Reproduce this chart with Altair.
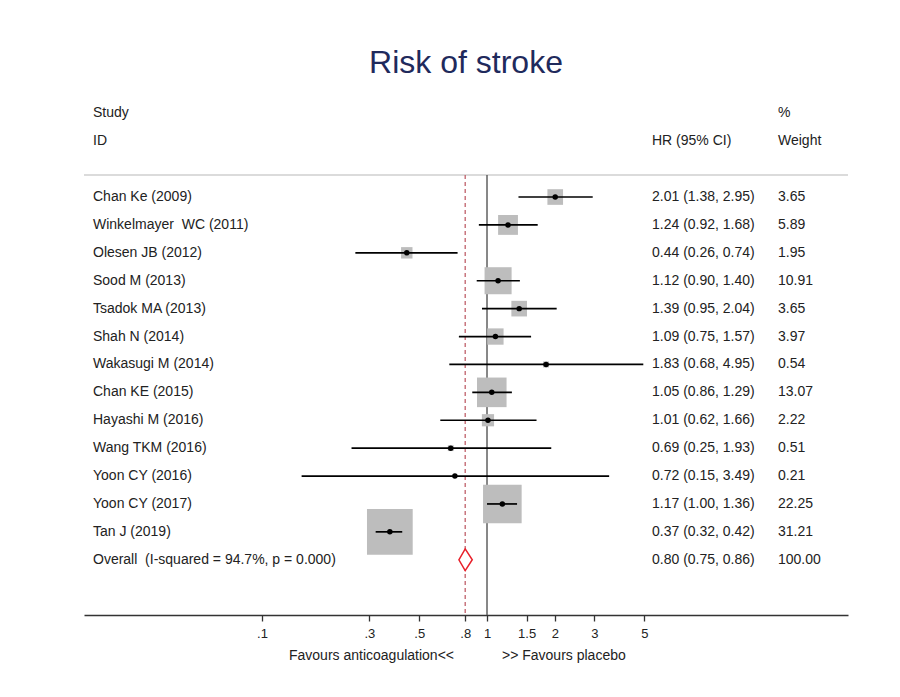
import altair as alt
import pandas as pd

NB = "\u00a0"
studies = ["Chan Ke (2009)", "Winkelmayer" + NB + NB + "WC (2011)", "Olesen JB (2012)", "Sood M (2013)",
           "Tsadok MA (2013)", "Shah N (2014)", "Wakasugi M (2014)", "Chan KE (2015)",
           "Hayashi M (2016)", "Wang TKM (2016)", "Yoon CY (2016)", "Yoon CY (2017)", "Tan J (2019)"]
hr = [2.01, 1.24, 0.44, 1.12, 1.39, 1.09, 1.83, 1.05, 1.01, 0.69, 0.72, 1.17, 0.37]
lo = [1.38, 0.92, 0.26, 0.90, 0.95, 0.75, 0.68, 0.86, 0.62, 0.25, 0.15, 1.00, 0.32]
hi = [2.95, 1.68, 0.74, 1.40, 2.04, 1.57, 4.95, 1.29, 1.66, 1.93, 3.49, 1.36, 0.42]
weight = [3.65, 5.89, 1.95, 10.91, 3.65, 3.97, 0.54, 13.07, 2.22, 0.51, 0.21, 22.25, 31.21]

overall_label = "Overall" + NB + NB + "(I-squared = 94.7%, p = 0.000)"
overall_hr, overall_lo, overall_hi, overall_weight = 0.80, 0.75, 0.86, 100.00

tick_values = [0.1, 0.3, 0.5, 0.8, 1, 1.5, 2, 3, 5]

FONT = "Liberation Sans"
TXT = "#222222"

n = len(studies)
df = pd.DataFrame({
    "study": studies, "hr": hr, "lo": lo, "hi": hi, "weight": weight,
    "row": list(range(n)),
})
df["ci"] = [f"{h:.2f} ({l:.2f}, {u:.2f})" for h, l, u in zip(hr, lo, hi)]
df["wt"] = [f"{w:.2f}" for w in weight]

ov_row = n
labels = pd.DataFrame({
    "study": studies + [overall_label],
    "ci": list(df["ci"]) + [f"{overall_hr:.2f} ({overall_lo:.2f}, {overall_hi:.2f})"],
    "wt": list(df["wt"]) + [f"{overall_weight:.2f}"],
    "row": list(range(n + 1)),
})

half = 0.39
diamond = pd.DataFrame({
    "x": [overall_lo, overall_hr, overall_hi],
    "top": [ov_row, ov_row - half, ov_row],
    "bot": [ov_row, ov_row + half, ov_row],
})

y_top, y_bot = -5.986, 14.98
sep_row = -0.79
xs = alt.Scale(type="log", domain=[0.01618, 40.21], nice=False, zero=False)
ys = alt.Scale(domain=[y_top, y_bot], reverse=True, nice=False, zero=False)

X = lambda f: alt.X(f, type="quantitative", scale=xs,
                    axis=alt.Axis(values=tick_values, title=None, grid=False,
                                  labelExpr="datum.value < 1 ? substring(format(datum.value, '~g'), 1) : format(datum.value, '~g')",
                                  domainColor="#333333", domainWidth=1.5, tickColor="#333333",
                                  tickWidth=1.3, tickSize=6, labelPadding=6, labelFontSize=13,
                                  labelColor=TXT, labelFont=FONT, labelFlush=False))
Y = lambda f: alt.Y(f, type="quantitative", scale=ys, axis=None)

refs = pd.DataFrame({"x": [1.0], "x08": [overall_hr], "top": [sep_row], "bot": [y_bot]})

sep = alt.Chart(refs).mark_rule(color="#cfcfcf", strokeWidth=1.5).encode(
    x=alt.value(0), x2=alt.value(764), y=Y("top"))
vline = alt.Chart(refs).mark_rule(color="#555555", strokeWidth=1.4).encode(
    x=X("x"), y=Y("top"), y2="bot")
dline = alt.Chart(refs).mark_rule(color="#c0606a", strokeWidth=1.3, strokeDash=[4, 3]).encode(
    x=X("x08"), y=Y("top"), y2="bot")

squares = alt.Chart(df).mark_square(color="#bdbdbd", opacity=1).encode(
    x=X("hr"), y=Y("row"),
    size=alt.Size("weight:Q", scale=alt.Scale(domain=[0, 100], range=[0, 6700]), legend=None))
ci = alt.Chart(df).mark_rule(color="black", strokeWidth=1.7).encode(
    x=X("lo"), x2="hi", y=Y("row"))
dots = alt.Chart(df).mark_circle(color="black", opacity=1, size=30).encode(
    x=X("hr"), y=Y("row"))
dia = alt.Chart(diamond).mark_area(fill="white", stroke="#e8202a", strokeWidth=1.5,
                                   orient="vertical", fillOpacity=1).encode(
    x=X("x"), y=Y("top"), y2="bot")

tcfg = dict(font=FONT, fontSize=14, color=TXT, baseline="middle", align="left")
t_study = alt.Chart(labels).mark_text(**tcfg).encode(x=alt.value(9), y=Y("row"), text="study")
t_ci = alt.Chart(labels).mark_text(**tcfg).encode(x=alt.value(568), y=Y("row"), text="ci")
t_wt = alt.Chart(labels).mark_text(**tcfg).encode(x=alt.value(694), y=Y("row"), text="wt")

heads = pd.DataFrame({
    "text": ["Study", "ID", "HR (95% CI)", "%", "Weight"],
    "row": [-3, -2, -2, -3, -2],
    "px": [9, 9, 568, 694, 694],
})
t_heads = alt.Chart(heads).mark_text(**tcfg).encode(
    x=alt.X("px:Q", scale=None), y=Y("row"), text="text")

title = alt.Chart(pd.DataFrame({"t": ["Risk of stroke"]})).mark_text(
    font=FONT, fontSize=32, color="#1f2a5c", align="center", baseline="middle").encode(
    x=alt.value(382), y=alt.value(33), text="t")

fav = pd.DataFrame({"t": ["Favours anticoagulation<<", ">> Favours placebo"]})
fav_l = alt.Chart(fav.iloc[[0]]).mark_text(font=FONT, fontSize=14, color=TXT, align="right",
                                             baseline="middle").encode(
    x=alt.value(370), y=alt.value(626), text="t")
fav_r = alt.Chart(fav.iloc[[1]]).mark_text(font=FONT, fontSize=14, color=TXT, align="left",
                                             baseline="middle").encode(
    x=alt.value(418), y=alt.value(626), text="t")

chart = alt.layer(sep, dline, vline, squares, ci, dots, dia, t_study, t_ci, t_wt, t_heads,
                  title, fav_l, fav_r).properties(
    width=764, height=585,
    padding={"left": 75, "top": 22, "right": 5, "bottom": 5},
    background="white",
).configure_view(strokeWidth=0)

chart.save("out.html", embed_options={"renderer": "svg", "actions": False})
